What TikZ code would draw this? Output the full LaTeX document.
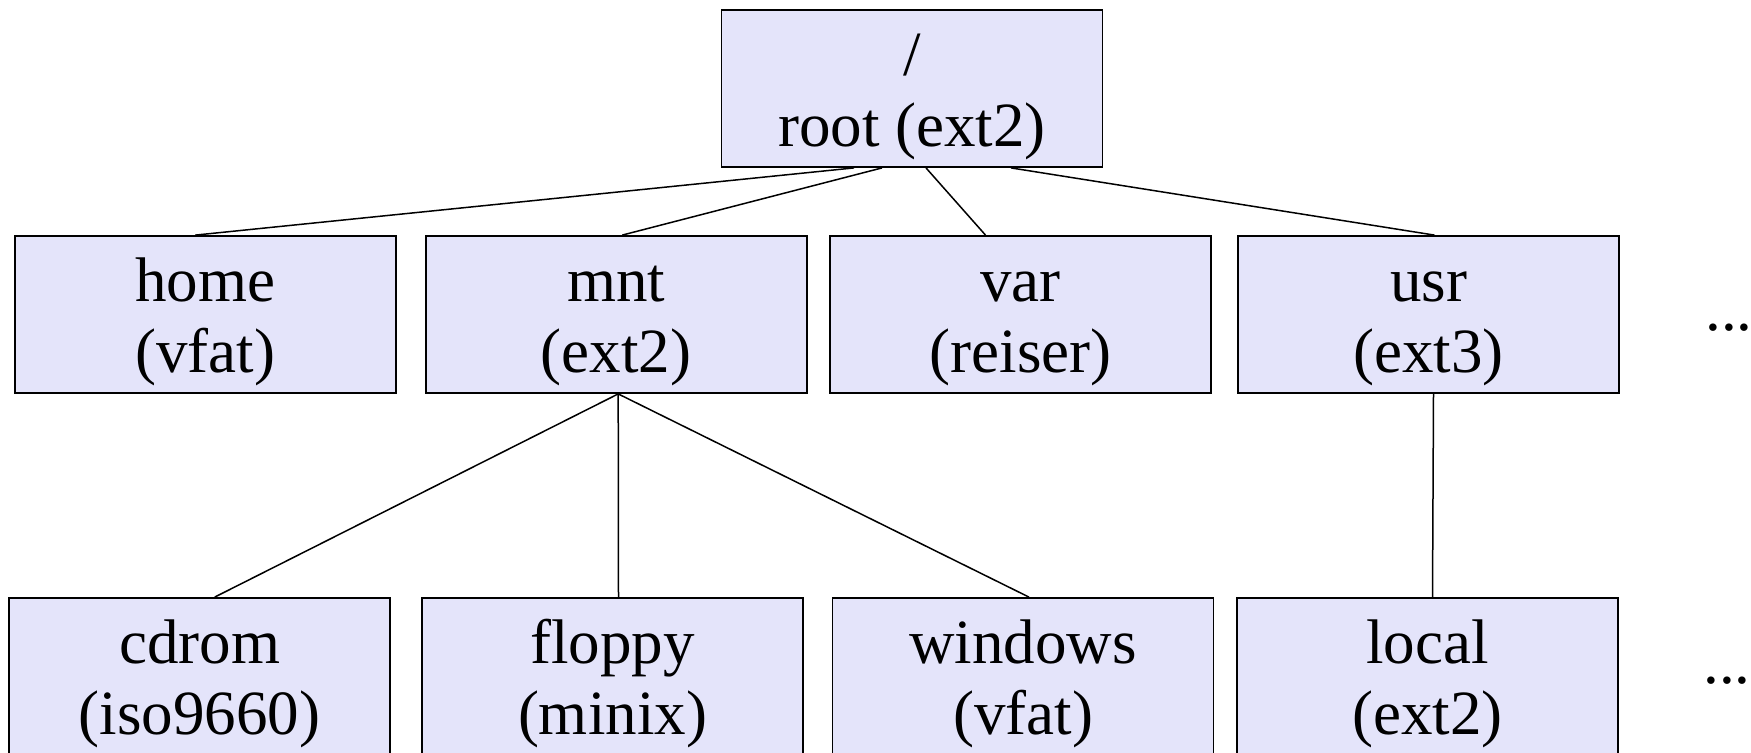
\documentclass[tikz,border=0pt]{standalone}
\usepackage{fontspec}
\setmainfont{Liberation Serif}
\definecolor{fsfill}{RGB}{228,228,250}

\begin{document}
\begin{tikzpicture}
    [x=0.5pt, y=-0.5pt,
     fsbox/.style={
        draw=black, line width=0.9pt, fill=fsfill,
        minimum width=190.5pt, minimum height=78.5pt, inner sep=0pt,
        align=center, text height=64pt, text depth=6.5pt,
        font=\fontsize{31.5}{35.5}\selectfont
     },
     more/.style={anchor=base west, inner sep=0pt,
        font=\fontsize{31.5}{35.5}\selectfont},
     link/.style={line width=0.75pt}
    ]
    \useasboundingbox (0,0) rectangle (1751,752);

    % top level
    \node[fsbox] (root) at (912,88.5) {/\\root (ext2)};

    % mount points under /
    \node[fsbox] (home) at (205.25,314.5) {home\\(vfat)};
    \node[fsbox] (mnt) at (616.2,314.5) {mnt\\(ext2)};
    \node[fsbox] (var) at (1020.5,314.5) {var\\(reiser)};
    \node[fsbox] (usr) at (1428.5,314.5) {usr\\(ext3)};
    \node[more] (more1) at (1705,330) {...};

    % second level
    \node[fsbox] (cdrom) at (199.7,676.5) {cdrom\\(iso9660)};
    \node[fsbox] (floppy) at (612.5,676.5) {floppy\\(minix)};
    \node[fsbox] (windows) at (1023,676.5) {windows\\(vfat)};
    \node[fsbox] (local) at (1427.5,676.5) {local\\(ext2)};
    \node[more] (more2) at (1703,683) {...};

    \draw[link] ([xshift=-29pt]root.south) -- ([xshift=-5pt]home.north);
    \draw[link] ([xshift=-15pt]root.south) -- ([xshift=3pt]mnt.north);
    \draw[link] ([xshift=7pt]root.south) -- ([xshift=-17.5pt]var.north);
    \draw[link] ([xshift=49.5pt]root.south) -- ([xshift=3pt]usr.north);

    \draw[link] ([xshift=1pt]mnt.south) -- ([xshift=7.5pt]cdrom.north);
    \draw[link] ([xshift=1pt]mnt.south) -- ([xshift=3pt]floppy.north);
    \draw[link] ([xshift=1pt]mnt.south) -- ([xshift=3pt]windows.north);
    \draw[link] ([xshift=2.5pt]usr.south) -- ([xshift=2.5pt]local.north);
\end{tikzpicture}
\end{document}
